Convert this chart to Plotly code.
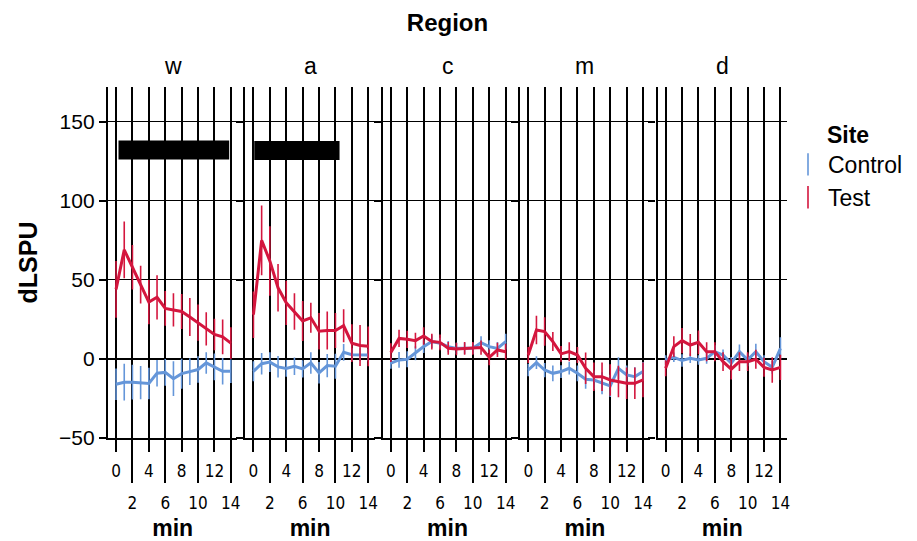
import plotly.graph_objects as go

# ---------------- data ----------------
regions = ["w", "a", "c", "m", "d"]
minutes = list(range(15))

test_vals = {
    "w": [44, 69, 58, 47, 36, 39, 32, 31, 30, 26.5, 23, 19, 15.5, 14, 10],
    "a": [28, 75, 62, 45, 35.5, 30, 24, 26, 17.5, 18, 18, 21, 10, 8.5, 8],
    "c": [4, 13, 12.4, 11.6, 14.5, 11, 10.5, 6.7, 6.3, 6.7, 6.7, 7.2, 1, 5.7, 4.6],
    "m": [2.5, 18.3, 17.3, 11, 3.2, 4.6, 2.5, -5.9, -11.2, -11.2, -13.3, -14.3, -15.4, -15.4, -13.3],
    "d": [-5.9, 7.8, 11.6, 8.8, 10.5, 4.6, 4.6, -1.7, -6.5, -1.7, -1.7, -0.2, -5.3, -7, -5.3],
}
test_err = {
    "w": [18, 18, 14, 12, 14, 14, 11, 10.5, 11, 12, 11.5, 10.5, 10, 11, 10],
    "a": [14.7, 22, 22, 15, 14, 11.6, 12.6, 9.5, 11.6, 12, 11, 10.5, 12, 13, 12.6],
    "c": [6, 5.5, 5.5, 5, 5.5, 5, 5, 4, 4, 4, 4, 4.5, 5, 4.5, 5],
    "m": [5, 9, 9, 6, 5, 6, 5, 10, 9, 9, 10, 10, 10, 10, 11],
    "d": [5, 6.5, 8, 7, 7.5, 6, 6, 6, 6.5, 6, 6, 6, 6, 8, 8],
}
ctrl_vals = {
    "w": [-16, -14.7, -14.7, -15, -15.5, -9, -8.5, -12.5, -9.3, -8, -6.7, -2.5, -5, -7.8, -7.8],
    "a": [-7.8, -3, -2, -5, -6, -4.6, -6.3, -2.5, -8.8, -4.2, -4.6, 4.2, 2.7, 2.7, 2.5],
    "c": [-2.7, -0.6, -0.2, 3.6, 7.8, 11, 9.9, 7.8, 6.7, 6.7, 6.7, 10.3, 7.8, 6.7, 11],
    "m": [-7, -2.3, -7, -9.1, -8, -5.9, -9.1, -12.8, -13.3, -15.4, -17, -5.9, -10.1, -11.2, -8],
    "d": [-0.6, 1, -1, 0.4, -0.6, 0.4, 4.6, 2.5, -2.7, 4.6, -0.6, 4.6, -1.7, -5.3, 6.7],
}
ctrl_err = {
    "w": [10, 11.6, 11, 10.5, 10, 8.4, 8.4, 11, 9.5, 8.4, 8.4, 6.8, 8.4, 8.4, 7.4],
    "a": [6.3, 6.8, 6.3, 6.8, 5.3, 5.5, 5.5, 6.8, 6.8, 7.4, 7.9, 5.3, 4, 4, 4],
    "c": [3.5, 5, 5, 4.5, 4, 4, 3.5, 3.5, 3.5, 3.5, 3.5, 4, 4, 4, 5],
    "m": [4, 4, 4.5, 5, 4, 4, 5, 6, 6, 7, 7, 7, 6, 6, 6],
    "d": [3, 3, 4, 3, 3, 3.5, 4, 3.5, 4, 4.5, 4, 5, 4, 4, 7],
}

# stimulus bars (black)
bar_region = ["w", "a"]
bar_start = [0.3, 0.1]
bar_end = [13.8, 10.5]
bar_low = [126.2, 125.8]
bar_high = [138.2, 137.8]

y_ticks = [-50, 0, 50, 100, 150]
x_ticks = [0, 2, 4, 6, 8, 10, 12, 14]
x_upper_labels = [0, 4, 8, 12]
x_lower_labels = [2, 6, 10, 14]

# ---------------- style ----------------
RED = "#D4163E"
BLUE = "#6596D9"
FONT = "Liberation Sans, Arial, sans-serif"
NARROW = "Liberation Sans Narrow, DejaVu Sans Condensed, Liberation Sans, sans-serif"

# page body has an 8px default margin: the figure is drawn offset by 8px
OFF = 8
FIG_W, FIG_H = 917 - OFF, 541 - OFF

n = len(regions)
plot_w = 679.0
plot_h = 351.0
step = 137.4
pw = 129.4
x_range = [-0.98, 14.8]
y_range = [-50, 172]

m_l = 108 - OFF
m_t = 87 - OFF
m_r = FIG_W - m_l - plot_w
m_b = FIG_H - m_t - plot_h
bottom_px = 438  # screen y of plot bottom

fig = go.Figure()

layout = dict(
    width=FIG_W, height=FIG_H,
    margin=dict(l=m_l, r=m_r, t=m_t, b=m_b, autoexpand=False, pad=0),
    paper_bgcolor="white", plot_bgcolor="white",
    font=dict(family=FONT, color="black", size=20),
    showlegend=True,
    title=dict(text="<b>Region</b>", x=(m_l + plot_w / 2) / FIG_W, xanchor="center",
               y=1 - (23 - OFF) / FIG_H, yanchor="middle", font=dict(size=24, family=FONT)),
    legend=dict(x=(788 - 108) / plot_w, xanchor="left", y=(bottom_px - 113) / plot_h, yanchor="top",
                title=dict(text="<b>Site</b>", side="top center", font=dict(size=23)),
                font=dict(size=23, family=FONT), tracegroupgap=0, itemwidth=30,
                bgcolor="rgba(0,0,0,0)"),
)

shapes = []
annotations = []
for i, r in enumerate(regions):
    k = i + 1
    xs = "" if k == 1 else str(k)
    ov = str(n + k)
    d0 = i * step / plot_w
    d1 = (i * step + pw) / plot_w
    layout["xaxis" + xs] = dict(
        domain=[d0, d1], range=x_range, anchor="y" + xs, automargin=False,
        tickvals=x_ticks,
        ticktext=[str(t) if t in x_upper_labels else "" for t in x_ticks],
        ticks="outside", ticklen=12, tickwidth=2, tickcolor="black",
        showgrid=True, gridcolor="black", gridwidth=1.6,
        showline=True, linecolor="black", linewidth=2,
        zeroline=False, tickfont=dict(family=NARROW, size=17),
        ticklabelstandoff=5,
    )
    layout["xaxis" + ov] = dict(
        overlaying="x" + xs, anchor="y" + xs, side="bottom", range=x_range, automargin=False,
        tickvals=x_lower_labels, ticktext=[str(t) for t in x_lower_labels],
        ticks="outside", ticklen=44, tickwidth=2, tickcolor="black",
        showgrid=False, showline=False, zeroline=False,
        tickfont=dict(family=NARROW, size=17), ticklabelstandoff=6,
        title=dict(text="<b>min</b>", font=dict(size=23, family=FONT), standoff=13),
    )
    layout["yaxis" + xs] = dict(
        domain=[0, 1], range=y_range, anchor="x" + xs, automargin=False,
        tickvals=y_ticks, showticklabels=(k == 1),
        ticks="outside", ticklen=7, tickwidth=1.6, tickcolor="black",
        showgrid=True, gridcolor="black", gridwidth=1,
        zeroline=True, zerolinecolor="black", zerolinewidth=2.2,
        showline=True, linecolor="black", linewidth=2.4,
        tickfont=dict(size=21, family=FONT),
    )
    if k == 1:
        layout["yaxis"]["title"] = dict(text="<b>dLSPU</b>", font=dict(size=25, family=FONT), standoff=14)

    # traces
    for name, vals, errs, col in [("Control", ctrl_vals[r], ctrl_err[r], BLUE),
                                  ("Test", test_vals[r], test_err[r], RED)]:
        fig.add_trace(go.Scatter(
            x=minutes, y=vals, mode="lines", name=name,
            line=dict(color=col, width=3),
            error_y=dict(type="data", array=errs, visible=True, color=col, thickness=1.6, width=0),
            xaxis="x" + xs, yaxis="y" + xs, showlegend=False, hoverinfo="skip",
        ))
    # invisible trace for overlay axis
    fig.add_trace(go.Scatter(x=[None], y=[None], mode="lines", xaxis="x" + ov, yaxis="y" + xs,
                             showlegend=False, hoverinfo="skip"))

    # facet label
    annotations.append(dict(text=r, x=(d0 + d1) / 2, xref="paper", y=(bottom_px - 66) / plot_h, yref="paper",
                            xanchor="center", yanchor="middle", showarrow=False,
                            font=dict(size=23, family=FONT)))

for r, xa, xb, ya, yb in zip(bar_region, bar_start, bar_end, bar_low, bar_high):
    k = regions.index(r) + 1
    xs = "" if k == 1 else str(k)
    shapes.append(dict(type="rect", xref="x" + xs, yref="y" + xs, x0=xa, x1=xb, y0=ya, y1=yb,
                       fillcolor="black", line=dict(width=0), layer="above"))

# legend-only traces
for name, col in [("Control", BLUE), ("Test", RED)]:
    fig.add_trace(go.Scatter(x=[None], y=[None], mode="markers", name=name,
                             marker=dict(symbol="line-ns-open", size=18, color=col,
                                         line=dict(color=col, width=1.6)),
                             xaxis="x", yaxis="y", showlegend=True))

layout["shapes"] = shapes
layout["annotations"] = annotations
fig.update_layout(**layout)
fig.write_html("out.html")
